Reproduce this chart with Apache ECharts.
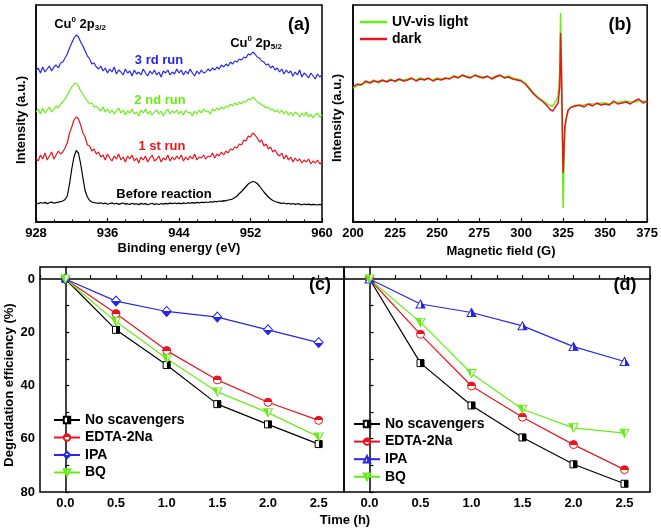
<!DOCTYPE html>
<html><head><meta charset="utf-8">
<script src="https://cdn.jsdelivr.net/npm/echarts@6/dist/echarts.min.js"></script>
<style>html,body{margin:0;padding:0;background:#fff}#c{width:661px;height:531px}</style>
</head><body><div id="c"></div>
<script>
// ---------- Panel (a): XPS spectra (binding energy, eV) ----------
const aX = [928,928.25,928.5,928.75,929,929.25,929.5,929.75,930,930.25,930.5,930.75,931,931.25,931.5,931.75,932,932.25,932.5,932.75,933,933.25,933.5,933.75,934,934.25,934.5,934.75,935,935.25,935.5,935.75,936,936.25,936.5,936.75,937,937.25,937.5,937.75,938,938.25,938.5,938.75,939,939.25,939.5,939.75,940,940.25,940.5,940.75,941,941.25,941.5,941.75,942,942.25,942.5,942.75,943,943.25,943.5,943.75,944,944.25,944.5,944.75,945,945.25,945.5,945.75,946,946.25,946.5,946.75,947,947.25,947.5,947.75,948,948.25,948.5,948.75,949,949.25,949.5,949.75,950,950.25,950.5,950.75,951,951.25,951.5,951.75,952,952.25,952.5,952.75,953,953.25,953.5,953.75,954,954.25,954.5,954.75,955,955.25,955.5,955.75,956,956.25,956.5,956.75,957,957.25,957.5,957.75,958,958.25,958.5,958.75,959,959.25,959.5,959.75,960];
const aBefore = [19.0,18.2,19.5,18.8,19.6,18.4,19.2,19.9,18.7,19.4,19.8,20.3,
 21.0,22.5,26,38,53,65,71.5,69,58,44,31,25,21.5,20,19.4,19.0,
 18.6,19.3,18.2,18.9,17.8,18.5,19.1,18.0,18.7,17.6,18.4,19.0,17.9,18.3,17.5,18.8,17.9,18.2,17.4,18.6,17.8,18.4,17.3,18.0,18.7,17.6,18.2,17.5,18.5,17.9,18.6,18.1,18.9,18.3,19.0,18.4,
 18.8,18.2,19.1,18.5,19.3,18.7,19.4,18.9,19.6,19.1,19.8,19.4,20.0,19.5,20.3,19.8,20.6,20.2,21.0,20.6,21.4,21.2,22.0,22.4,
 23,24.5,26,28.5,30.5,33,35.5,38,39.5,40.5,40,38.5,36,33,30,27.5,25,23,21.5,20.5,19.8,
 19.2,18.6,19.0,18.2,18.7,17.9,18.5,17.6,18.3,17.8,17.2,18.0,17.4,17.9,17.1,17.7,17.3,17.0,17.6,17.2];
const aRun1 = [64,61,67,63,69,62,66,70,63,67,71,68,
 70,74,79,89,95,102,105,103,97,89,85,77,76,71,73,68,
 70,65,67,62,68,64,61,66,63,68,62,65,60,66,63,67,61,64,59,65,62,66,60,64,67,61,63,66,60,64,62,67,61,65,62,66,
 63,67,61,65,62,66,63,68,62,65,64,67,63,66,65,69,64,68,66,70,67,71,69,73,
 72,75,74,78,77,82,81,86,85,89,87,84,80,82,76,78,73,75,70,72,68,
 66,69,63,67,62,65,60,64,61,63,59,62,60,63,58,61,59,62,58,60];
const aRun2 = [110,113,108,114,109,112,115,110,113,116,114,118,
 120,123,127,131,135,138,139,136,131,128,124,121,118,119,115,116,
 113,111,115,110,113,109,112,108,111,114,109,112,107,111,109,113,108,110,106,112,109,113,108,111,107,110,112,108,111,106,110,113,108,111,109,112,
 108,111,107,112,109,110,106,111,108,112,109,113,110,111,108,113,111,114,112,115,113,116,115,118,
 116,119,117,120,118,121,120,123,122,125,123,120,119,117,116,114,115,112,113,110,112,
 109,112,108,111,107,110,106,110,108,105,109,106,110,105,108,104,107,109,105,107];
const aRun3 = [151,154,149,155,150,153,156,151,155,157,154,159,
 160,164,168,174,179,184,187,185,180,176,171,166,163,158,159,155,
 153,156,151,154,149,153,150,155,148,152,150,147,153,149,151,146,152,148,150,147,153,149,146,151,148,152,147,150,145,151,149,152,147,150,148,153,
 149,152,147,151,148,153,149,146,151,148,152,149,150,153,151,154,152,155,153,157,155,158,156,160,
 158,161,160,163,162,165,164,168,167,170,168,165,164,161,160,157,158,154,156,152,154,
 150,153,148,152,149,151,146,150,147,152,145,149,147,144,149,146,143,148,145,147];

// ---------- Panel (b): EPR spectra (magnetic field, G) ----------
const bX = [200,202.5,205,207.5,210,212.5,215,217.5,220,222.5,225,227.5,230,232.5,235,237.5,240,242.5,245,247.5,250,252.5,255,257.5,260,262.5,265,267.5,270,272.5,275,277.5,280,282.5,285,287.5,290,292.5,295,297.5,300,302.5,305,307.5,310,312.5,315,317.5,
 319,320,321,322,323,323.5,324,324.5,325,325.5,326,327,328,329,330,
 332.5,335,337.5,340,342.5,345,347.5,350,352.5,355,357.5,360,362.5,365,367.5,370,372.5,375];
const bLight = [134,136,138,139,140,142,139,141,141,143,140,142,142,143,143,142,144,143,143,142,144,143,143,144,145,145,146,146,145,146,146,145,145,144,146,146,145,146,144,143,142,139,134,129,125,122,119,116,
 116,119,122,126,150,209,160,90,14,55,92,104,111,114,115,
 117,116,117,118,118,118,119,119,118,119,120,120,121,120,120,121,121,120];
const bDark = [135,138,137,141,139,141,140,142,140,142,141,143,141,142,144,141,143,142,144,141,143,142,144,143,146,144,147,145,144,147,145,144,146,143,145,147,144,145,143,142,141,138,133,128,124,121,117,112,
 111,114,116,119,135,189,150,100,49,70,95,105,112,114,115,
 116,117,115,118,116,119,117,118,117,121,118,119,120,118,121,123,119,121];

// ---------- Panels (c) and (d): degradation vs time ----------
const timeX = [0,0.5,1.0,1.5,2.0,2.5];
const seriesNames = ['No scavengers','EDTA-2Na','IPA','BQ'];
const cNo   = [0,19.1,32.3,47.0,54.6,62.0];
const cEDTA = [0,13.0,26.9,37.9,46.3,53.1];
const cIPA  = [0,8.3,12.2,14.3,19.1,23.9];
const cBQ   = [0,16.0,29.9,42.4,50.2,59.3];
const dNo   = [0,31.6,47.5,59.5,69.6,76.9];
const dEDTA = [0,20.8,40.2,51.9,62.2,71.6];
const dIPA  = [0,9.4,12.6,17.6,25.4,31.0];
const dBQ   = [0,16.3,35.5,48.9,55.9,57.9];
const yLabels = [0,20,40,60,80];
const yTicks = [0,10,20,30,40,50,60,70,80];

const BLK='#000000', RED='#e8141e', BLU='#2626e6', GRN='#66ee14';
const FONT = '"Liberation Sans", Arial, sans-serif';
const pair = (xs, ys) => xs.map((x,i)=>[x, ys[i]]);

function half(col, side){
  const g = {type:'linear', x:0, y:0, x2:0, y2:0, colorStops:[]};
  if (side==='top'||side==='bottom') g.y2 = 1; else g.x2 = 1;
  const first = (side==='top'||side==='left') ? col : '#fff';
  const second = first===col ? '#fff' : col;
  g.colorStops = [{offset:0,color:first},{offset:0.5,color:first},{offset:0.5,color:second},{offset:1,color:second}];
  return g;
}

const axisBase = {
  axisLine:{show:true, lineStyle:{color:'#000', width:1.5}},
  splitLine:{show:false},
  axisLabel:{color:'#000', fontSize:13, fontWeight:'bold', fontFamily:FONT},
};

function grid(left, top, width, height){
  return {left, top, width, height, show:true, borderColor:'#000', borderWidth:1.5, containLabel:false};
}

const downTri = 'path://M0,0L10,0L5,10Z';

function scavSeries(prefix, gi, no, edta, ipa, bq, ipaSymbol){
  const mk = (name, data, col, symbol, size, side) => ({
    type:'line', name: prefix+name, xAxisIndex:gi, yAxisIndex:gi,
    data: pair(timeX, data), symbol, symbolSize:size,
    lineStyle:{color:col, width:1.2}, color: col,
    itemStyle:{color: half(col, side), borderColor:col, borderWidth:1},
    emphasis:{disabled:true}, z: 3
  });
  return [
    mk('No scavengers', no, BLK, 'rect', 7, 'right'),
    mk('EDTA-2Na', edta, RED, 'circle', 8, 'top'),
    mk('IPA', ipa, BLU, ipaSymbol, ipaSymbol==='diamond'?[9,10]:[9,8], ipaSymbol==='diamond'?'bottom':'right'),
    mk('BQ', bq, GRN, downTri, [9,8], 'left'),
  ];
}

function txt(text, x, y, opts){
  opts = opts || {};
  return {type:'text', x, y, rotation: opts.rot||0, z:10,
    style:{text, fill: opts.color||'#000', font: 'bold '+(opts.size||13)+'px '+FONT,
      align:'center', verticalAlign:'middle'}};
}
function cuLabel(x, y, sub){
  return {type:'text', x, y, z:10,
    style:{text:'{m|Cu}{s|0}{m| 2p}{b|'+sub+'}', align:'center', verticalAlign:'middle',
      rich:{
        m:{font:'bold 13px '+FONT, fill:'#000', lineHeight:16, verticalAlign:'middle'},
        s:{font:'bold 8px '+FONT, fill:'#000', lineHeight:16, verticalAlign:'top'},
        b:{font:'bold 8px '+FONT, fill:'#000', lineHeight:16, verticalAlign:'bottom'}
      }}};
}

const legendText = {fontSize:14, fontWeight:'bold', color:'#000', fontFamily:FONT, lineHeight:14};

const option = {
  animation:false,
  textStyle:{fontFamily:FONT},
  grid:[grid(36,5,286,217), grid(353,5,295,217), grid(40,267,304,225), grid(344,267,306,225)],
  xAxis:[
    Object.assign({}, axisBase, {type:'value', gridIndex:0, min:928, max:960, interval:8,
      axisTick:{inside:true, length:4, lineStyle:{color:'#000', width:1.2}},
      minorTick:{show:true, splitNumber:4, length:2.5, lineStyle:{color:'#000', width:1}},
      axisLabel:Object.assign({}, axisBase.axisLabel, {margin:5})}),
    Object.assign({}, axisBase, {type:'value', gridIndex:1, min:200, max:375, interval:25,
      axisTick:{inside:true, length:4, lineStyle:{color:'#000', width:1.2}},
      minorTick:{show:true, splitNumber:2, length:2.5, lineStyle:{color:'#000', width:1}},
      axisLabel:Object.assign({}, axisBase.axisLabel, {margin:5})}),
    Object.assign({}, axisBase, {type:'value', gridIndex:2, min:-0.25, max:2.75, interval:0.25,
      axisTick:{inside:true, length:4, lineStyle:{color:'#000', width:1.2}},
      axisLabel:Object.assign({}, axisBase.axisLabel, {margin:5,
        formatter: v => (v>=0 && v<=2.5 && Math.abs(v*2-Math.round(v*2))<1e-6) ? v.toFixed(1) : ''})}),
    Object.assign({}, axisBase, {type:'value', gridIndex:3, min:-0.25, max:2.75, interval:0.25,
      axisTick:{inside:true, length:4, lineStyle:{color:'#000', width:1.2}},
      axisLabel:Object.assign({}, axisBase.axisLabel, {margin:5,
        formatter: v => (v>=0 && v<=2.5 && Math.abs(v*2-Math.round(v*2))<1e-6) ? v.toFixed(1) : ''})}),
  ],
  yAxis:[
    Object.assign({}, axisBase, {type:'value', gridIndex:0, min:0, max:217, axisTick:{show:false}, axisLabel:{show:false}}),
    Object.assign({}, axisBase, {type:'value', gridIndex:1, min:0, max:217, axisTick:{show:false}, axisLabel:{show:false}}),
    Object.assign({}, axisBase, {type:'value', gridIndex:2, min:-4.5, max:80, inverse:true,
      axisTick:{show:true, inside:true, length:4, customValues:yTicks, lineStyle:{color:'#000', width:1.2}},
      axisLabel:Object.assign({}, axisBase.axisLabel, {margin:5, customValues:yLabels})}),
    Object.assign({}, axisBase, {type:'value', gridIndex:3, min:-4.5, max:80, inverse:true,
      axisTick:{show:true, inside:true, length:4, customValues:yTicks, lineStyle:{color:'#000', width:1.2}},
      axisLabel:{show:false}}),
  ],
  legend:[
    {data:['UV-vis light','dark'], orient:'vertical', left:360, top:15, padding:0, icon:'rect',
      itemWidth:27, itemHeight:2.5, itemGap:3, textStyle:legendText},
    {data:seriesNames.map(n=>'c:'+n), formatter:n=>n.slice(2), orient:'vertical', left:53, top:413, padding:0,
      itemWidth:26, itemHeight:8, itemGap:3.5, textStyle:legendText},
    {data:seriesNames.map(n=>'d:'+n), formatter:n=>n.slice(2), orient:'vertical', left:353, top:417, padding:0,
      itemWidth:26, itemHeight:8, itemGap:3.6, textStyle:legendText},
  ],
  series:[
    {type:'line', name:'Before reaction', xAxisIndex:0, yAxisIndex:0, data:pair(aX,aBefore), symbol:'none', lineStyle:{color:BLK, width:1.2}, color:BLK},
    {type:'line', name:'1 st run', xAxisIndex:0, yAxisIndex:0, data:pair(aX,aRun1), symbol:'none', lineStyle:{color:RED, width:1.2}, color:RED},
    {type:'line', name:'2 nd run', xAxisIndex:0, yAxisIndex:0, data:pair(aX,aRun2), symbol:'none', lineStyle:{color:GRN, width:1.2}, color:GRN},
    {type:'line', name:'3 rd run', xAxisIndex:0, yAxisIndex:0, data:pair(aX,aRun3), symbol:'none', lineStyle:{color:BLU, width:1.2}, color:BLU},
    {type:'line', name:'UV-vis light', xAxisIndex:1, yAxisIndex:1, data:pair(bX,bLight), symbol:'none', lineStyle:{color:GRN, width:1.5}, color:GRN},
    {type:'line', name:'dark', xAxisIndex:1, yAxisIndex:1, data:pair(bX,bDark), symbol:'none', lineStyle:{color:RED, width:1.5}, color:RED},
    ...scavSeries('c:', 2, cNo, cEDTA, cIPA, cBQ, 'diamond'),
    ...scavSeries('d:', 3, dNo, dEDTA, dIPA, dBQ, 'triangle'),
  ],
  graphic:[
    txt('Binding energy (eV)', 179, 248),
    txt('Magnetic field (G)', 501, 251),
    txt('Intensity (a.u.)', 21, 120, {rot:Math.PI/2}),
    txt('Intensity (a.u.)', 337, 118, {rot:Math.PI/2}),
    txt('Degradation efficiency (%)', 9, 385, {rot:Math.PI/2}),
    txt('Time (h)', 345, 520),
    txt('(a)', 299, 25, {size:18}),
    txt('(b)', 620, 25, {size:18}),
    txt('(c)', 320, 285, {size:18}),
    txt('(d)', 625, 285, {size:18}),
    txt('3 rd run', 159, 60, {color:BLU}),
    txt('2 nd run', 160, 100, {color:GRN}),
    txt('1 st run', 162, 146, {color:RED}),
    txt('Before reaction', 164, 194),
    cuLabel(80, 24, '3/2'),
    cuLabel(256, 43, '5/2'),
  ]
};
const chart = echarts.init(document.getElementById('c'), null, {renderer:'canvas'});
chart.setOption(option);
</script>
</body></html>
